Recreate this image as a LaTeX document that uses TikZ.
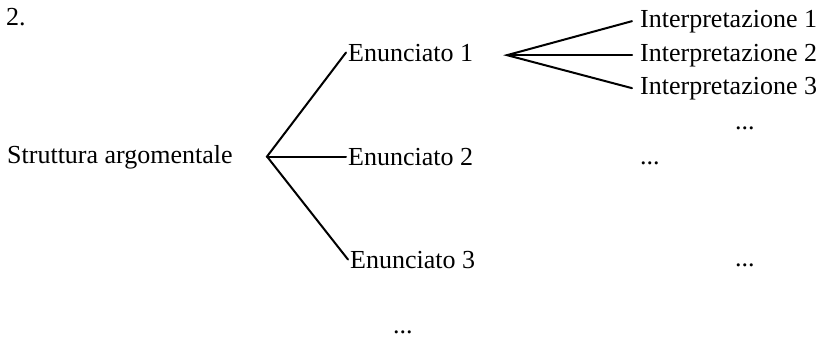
\documentclass[tikz,border=0pt]{standalone}
\usepackage{fontspec}
\setmainfont{Liberation Serif}
\usepackage{tikz}
\usetikzlibrary{positioning}

\begin{document}
\begin{tikzpicture}[x=1pt, y=-1pt,
    every node/.style={font=\fontsize{26}{30}\selectfont, inner ysep=0pt, inner xsep=2pt, anchor=base west},
    interp/.style={inner xsep=8pt},
    branch/.style={line width=2pt, line cap=round}]
  \useasboundingbox (0,0) rectangle (821,338);
  % label and root
  \node (num) at (4,25) {2.};
  \node (root) at (5,163) {Struttura argomentale};
  % statements
  \node (en1) at (346,61) {Enunciato 1};
  \node (en2) at (346,165) {Enunciato 2};
  \node (en3) at (348,268) {Enunciato 3};
  % interpretations of the first statement
  \node[interp] (in1) at (632,27) {Interpretazione 1};
  \node[interp] (in2) at (632,61) {Interpretazione 2};
  \node[interp] (in3) at (632,94) {Interpretazione 3};
  % dots
  \node (d1) at (733,129) {...};
  \node (d2) at (638,164) {...};
  \node (d3) at (733,266) {...};
  \node (d4) at (391,333) {...};
  % forks
  \coordinate (fork) at (267,0 |- en2.west);
  \coordinate (fork1) at (507,0 |- in2.west);
  \draw[branch] (en1.west) -- (fork) -- (en3.west);
  \draw[branch] (fork) -- (en2.west);
  \draw[branch] (in1.west) -- (fork1) -- (in3.west);
  \draw[branch] (fork1) -- (in2.west);
\end{tikzpicture}
\end{document}
